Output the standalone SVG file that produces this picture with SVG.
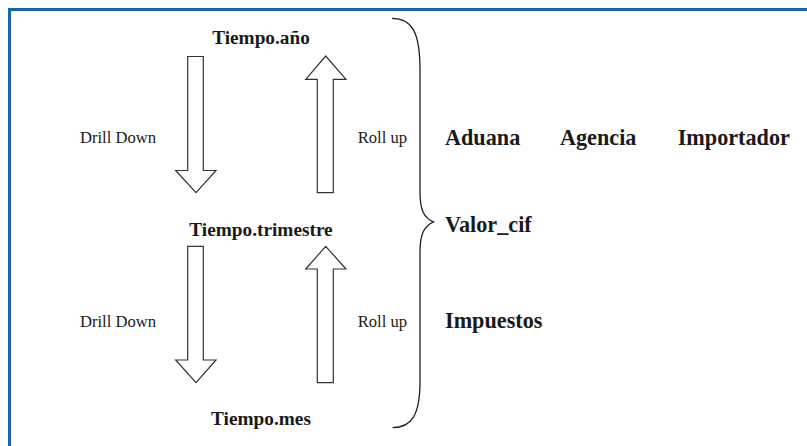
<svg xmlns="http://www.w3.org/2000/svg" width="807" height="446" viewBox="0 0 807 446">
<style>
.lvl{font-family:"Liberation Serif","Times New Roman",serif;font-weight:bold;font-size:19.3px;fill:#1a1a1a;text-anchor:middle}
.op{font-family:"Liberation Serif","Times New Roman",serif;font-size:16.6px;fill:#1a1a1a}
.attr{font-family:"Liberation Serif","Times New Roman",serif;font-weight:bold;font-size:22.2px;fill:#1a1a1a}
.arrow{fill:#fff;stroke:#333;stroke-width:1.2;stroke-linejoin:miter}
.brace{fill:none;stroke:#222;stroke-width:1.3}
</style>
<rect x="0" y="0" width="807" height="446" fill="#fff"/>
<path d="M9.5,446 V9.4 H807" fill="none" stroke="#1762b2" stroke-width="3"/>
<g id="connectors">
<polygon class="arrow" points="187.7,56.5 203.3,56.5 203.3,170.5 216,170.5 196,192.7 175.7,170.5 187.7,170.5"/>
<polygon class="arrow" points="317.3,192.7 333.3,192.7 333.3,79.3 346,79.3 325.7,56 305.7,79.3 317.3,79.3"/>
<polygon class="arrow" points="187.7,246.3 203.3,246.3 203.3,360 216,360 196,382.7 175.7,360 187.7,360"/>
<polygon class="arrow" points="317.3,382.7 333.3,382.7 333.3,269 346,269 325.7,246.3 305.7,269 317.3,269"/>
</g>
<g id="brace">
<path class="brace" d="M392,18.3 C412,18.3 420,32 420,70 L420,192 C420,210 424,218 433.5,221.8 C424,226 420,234 420,252 L420,382 C420,414 412,427.7 392.5,427.7"/>
</g>
<g id="node-anio"><text class="lvl" x="261" y="43.5">Tiempo.año</text></g>
<g id="node-trimestre"><text class="lvl" x="261" y="236">Tiempo.trimestre</text></g>
<g id="node-mes"><text class="lvl" x="261" y="424.5">Tiempo.mes</text></g>
<g id="label-drill1"><text class="op" x="80" y="143">Drill Down</text></g>
<g id="label-roll1"><text class="op" x="357.7" y="143">Roll up</text></g>
<g id="label-drill2"><text class="op" x="80" y="327">Drill Down</text></g>
<g id="label-roll2"><text class="op" x="357.7" y="327">Roll up</text></g>
<g id="node-aduana"><text class="attr" x="445" y="145">Aduana</text></g>
<g id="node-agencia"><text class="attr" x="560" y="145">Agencia</text></g>
<g id="node-importador"><text class="attr" x="677.7" y="145">Importador</text></g>
<g id="node-valorcif"><text class="attr" x="445" y="231.5">Valor_cif</text></g>
<g id="node-impuestos"><text class="attr" x="445" y="328.3">Impuestos</text></g>
</svg>
